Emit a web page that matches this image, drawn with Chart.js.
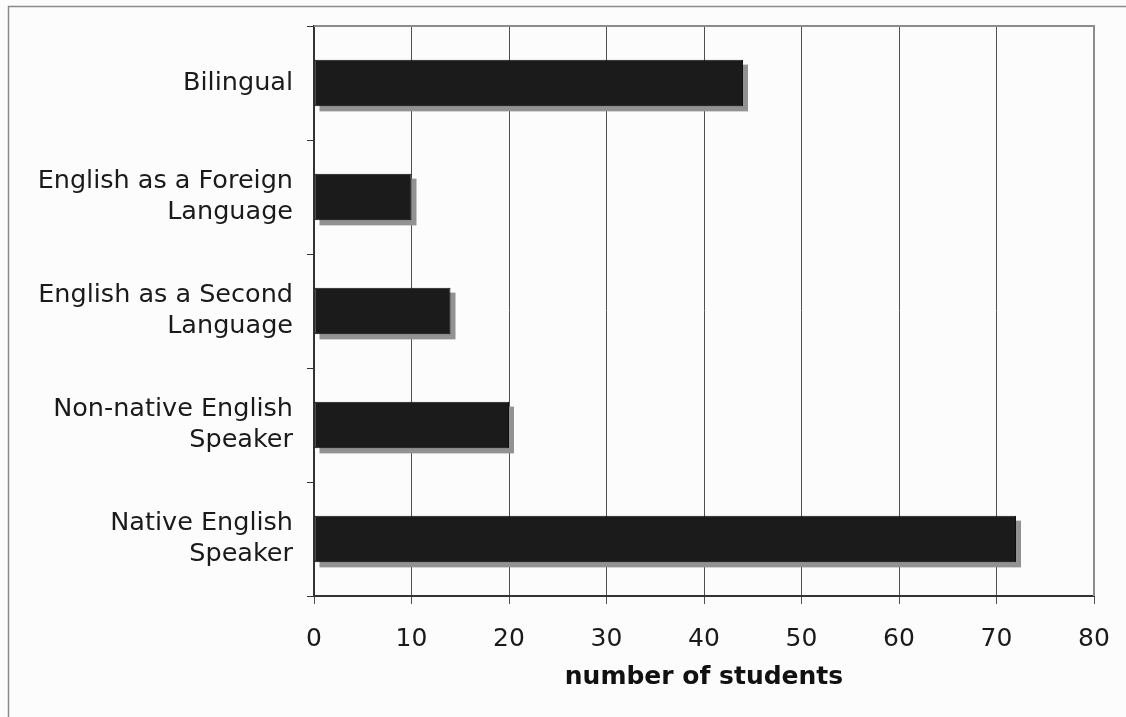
<!DOCTYPE html>
<html>
<head>
<meta charset="utf-8">
<script src="https://cdn.jsdelivr.net/npm/chart.js@4/dist/chart.umd.min.js"></script>
<style>
  html, body { margin: 0; padding: 0; background: #fcfcfc; }
  #wrap { position: relative; width: 1126px; height: 717px; }
  canvas { display: block; }
</style>
</head>
<body>
<div id="wrap"><canvas id="c" width="1126" height="717"></canvas></div>
<script>
// Student language background counts
const categories = [
  "Bilingual",
  ["English as a Foreign", "Language"],
  ["English as a Second", "Language"],
  ["Non-native English", "Speaker"],
  ["Native English", "Speaker"]
];
const students = [44, 10, 14, 20, 72];
const xTicks = [0, 10, 20, 30, 40, 50, 60, 70, 80];

const FONT = "'DejaVu Sans', Verdana, sans-serif";
const SHADOW_OFFSET = 5;

// Outer frame, bar drop shadows and the plot-area top/right borders
const framePlugin = {
  id: 'frame',
  beforeDraw(chart) {
    const ctx = chart.ctx;
    ctx.save();
    ctx.fillStyle = '#fcfcfc';
    ctx.fillRect(0, 0, chart.width, chart.height);
    ctx.strokeStyle = '#8a8a8a';
    ctx.lineWidth = 1.5;
    ctx.beginPath();
    ctx.moveTo(8.5, chart.height);
    ctx.lineTo(8.5, 6.5);
    ctx.lineTo(chart.width, 6.5);
    ctx.stroke();
    ctx.restore();
  },
  beforeDatasetsDraw(chart) {
    // shadow rectangles follow each bar element's own geometry
    const ctx = chart.ctx;
    const meta = chart.getDatasetMeta(0);
    ctx.save();
    ctx.fillStyle = '#929292';
    meta.data.forEach(bar => {
      const p = bar.getProps(['x', 'y', 'base', 'height'], true);
      const left = Math.min(p.base, p.x);
      const w = Math.abs(p.x - p.base);
      ctx.fillRect(left + SHADOW_OFFSET, p.y - p.height / 2 + SHADOW_OFFSET, w, p.height);
    });
    ctx.restore();
  },
  afterDatasetsDraw(chart) {
    const a = chart.chartArea;
    const ctx = chart.ctx;
    ctx.save();
    ctx.strokeStyle = '#8c8c8c';
    ctx.lineWidth = 2;
    ctx.beginPath();
    ctx.moveTo(a.left, a.top);
    ctx.lineTo(a.right, a.top);
    ctx.lineTo(a.right, a.bottom);
    ctx.stroke();
    ctx.restore();
  }
};

new Chart(document.getElementById('c'), {
  type: 'bar',
  data: {
    labels: categories,
    datasets: [{
      data: students,
      backgroundColor: '#1b1b1b',
      borderColor: '#111111',
      borderWidth: 1,
      borderSkipped: false,
      categoryPercentage: 1.0,
      barPercentage: 0.41
    }]
  },
  options: {
    indexAxis: 'y',
    responsive: false,
    animation: false,
    devicePixelRatio: 1,
    layout: { padding: { left: 0, right: 32, top: 26, bottom: 0 } },
    plugins: {
      legend: { display: false },
      tooltip: { enabled: false }
    },
    scales: {
      x: {
        type: 'linear',
        min: 0,
        max: 80,
        afterBuildTicks(scale) {
          scale.ticks = xTicks.map(v => ({ value: v }));
        },
        afterFit(scale) {
          scale.height = 121;
          scale.paddingLeft = 0;
          scale.paddingRight = 0;
        },
        grid: {
          color: '#505050',
          lineWidth: 1,
          tickLength: 8,
          drawOnChartArea: true
        },
        border: { color: '#333333', width: 2 },
        ticks: {
          color: '#1a1a1a',
          padding: 20,
          font: { family: FONT, size: 25 }
        },
        title: {
          display: true,
          text: 'number of students',
          color: '#111111',
          padding: { top: 4, bottom: 25 },
          font: { family: FONT, size: 25, weight: 'bold' }
        }
      },
      y: {
        type: 'category',
        offset: true,
        afterFit(scale) {
          scale.width = 314;
          scale.paddingTop = 0;
          scale.paddingBottom = 0;
        },
        grid: {
          offset: true,
          drawOnChartArea: false,
          color: '#333333',
          tickLength: 7
        },
        border: { color: '#333333', width: 2 },
        ticks: {
          color: '#1a1a1a',
          padding: 14,
          font: { family: FONT, size: 25.5, lineHeight: 1.2 }
        }
      }
    }
  },
  plugins: [framePlugin]
});
</script>
</body>
</html>
